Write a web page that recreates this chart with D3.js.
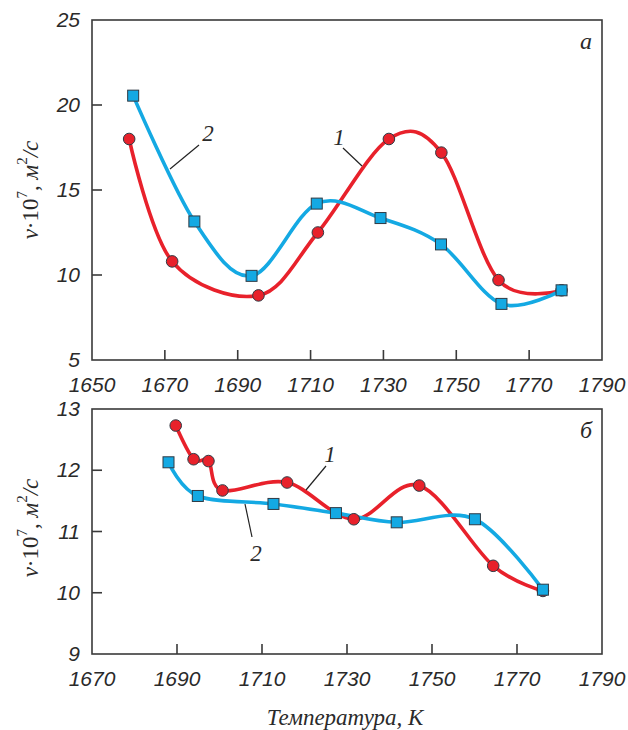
<!DOCTYPE html>
<html>
<head>
<meta charset="utf-8">
<script src="https://cdn.jsdelivr.net/npm/d3@7"></script>
<style>
  html, body { margin: 0; padding: 0; background: #fff; }
  svg { display: block; }
</style>
</head>
<body>
<svg id="chart" width="628" height="730"></svg>
<script>
// Panel "a": kinematic viscosity vs temperature
const tempA1 = [1660.2, 1672, 1695.7, 1712, 1731.5, 1745.9, 1761.6, 1778.9];
const viscA1 = [18.0, 10.8, 8.8, 12.5, 18.0, 17.2, 9.7, 9.1];
const tempA2 = [1661.3, 1678.1, 1693.8, 1711.7, 1729.2, 1745.8, 1762.4, 1778.9];
const viscA2 = [20.55, 13.15, 9.95, 14.2, 13.35, 11.8, 8.3, 9.1];
const xTicksA = [1650, 1670, 1690, 1710, 1730, 1750, 1770, 1790];
const yTicksA = [5, 10, 15, 20, 25];

// Panel "б"
const tempB1 = [1689.7, 1693.9, 1697.4, 1700.7, 1715.9, 1731.6, 1747, 1764.4, 1776.1];
const viscB1 = [12.73, 12.18, 12.15, 11.67, 11.8, 11.2, 11.75, 10.44, 10.03];
const tempB2 = [1688, 1694.9, 1712.7, 1727.4, 1741.7, 1760.1, 1776.1];
const viscB2 = [12.13, 11.58, 11.45, 11.3, 11.15, 11.2, 10.05];
const xTicksB = [1670, 1690, 1710, 1730, 1750, 1770, 1790];
const yTicksB = [9, 10, 11, 12, 13];

const RED = "#e8212b";
const BLUE = "#14a9e3";
const FRAME = "#3a3a3a";
const MARK_STROKE = "#2f3a44";

const svg = d3.select("#chart");

function drawPanel(opt) {
  const g = svg.append("g");
  const x = d3.scaleLinear().domain(opt.xDomain).range([92, 602]);
  const y = d3.scaleLinear().domain(opt.yDomain).range([opt.bottom, opt.top]);

  // frame
  g.append("rect")
    .attr("x", 92).attr("y", opt.top)
    .attr("width", 510).attr("height", opt.bottom - opt.top)
    .attr("fill", "none").attr("stroke", FRAME).attr("stroke-width", 1.6);

  // inward ticks
  g.selectAll(".xt").data(opt.xTicks.slice(1, -1)).enter().append("line")
    .attr("x1", d => x(d)).attr("x2", d => x(d))
    .attr("y1", opt.bottom).attr("y2", opt.bottom - 10)
    .attr("stroke", FRAME).attr("stroke-width", 1.6);
  g.selectAll(".yt").data(opt.yTicks.slice(1, -1)).enter().append("line")
    .attr("x1", 92).attr("x2", 102)
    .attr("y1", d => y(d)).attr("y2", d => y(d))
    .attr("stroke", FRAME).attr("stroke-width", 1.6);

  // tick labels
  g.selectAll(".xl").data(opt.xTicks).enter().append("text")
    .attr("x", d => x(d)).attr("y", opt.bottom + 32)
    .attr("text-anchor", "middle")
    .attr("font-family", "Liberation Sans, Arial, sans-serif")
    .attr("font-style", "italic").attr("font-size", 21).attr("fill", "#2a2a2a")
    .text(d => d);
  g.selectAll(".yl").data(opt.yTicks).enter().append("text")
    .attr("x", 80).attr("y", d => y(d) + 7)
    .attr("text-anchor", "end")
    .attr("font-family", "Liberation Sans, Arial, sans-serif")
    .attr("font-style", "italic").attr("font-size", 21).attr("fill", "#2a2a2a")
    .text(d => d);

  // y-axis title
  const yt = g.append("text")
    .attr("transform", `translate(38,${opt.titleY}) rotate(-90)`)
    .attr("text-anchor", "middle")
    .attr("font-family", "Liberation Serif, Times New Roman, serif")
    .attr("font-size", 23).attr("fill", "#2a2a2a");
  yt.append("tspan").attr("font-style", "italic").text("ν");
  yt.append("tspan").text("·10");
  yt.append("tspan").attr("font-size", 15).attr("dy", -11).text("7");
  yt.append("tspan").attr("dy", 11).text(", ");
  yt.append("tspan").attr("font-style", "italic").text("м");
  yt.append("tspan").attr("font-size", 15).attr("dy", -11).text("2");
  yt.append("tspan").attr("font-style", "italic").attr("dy", 11).text("/с");

  // panel letter
  g.append("text")
    .attr("x", 586).attr("y", opt.top + 29)
    .attr("text-anchor", "middle")
    .attr("font-family", "Liberation Serif, Times New Roman, serif")
    .attr("font-style", "italic").attr("font-size", 24).attr("fill", "#2a2a2a")
    .text(opt.letter);

  const line = d3.line().x(d => x(d[0])).y(d => y(d[1])).curve(d3.curveCatmullRom.alpha(0));

  const s1 = d3.zip(opt.t1, opt.v1);
  const s2 = d3.zip(opt.t2, opt.v2);

  const drawSeries = (data, color) =>
    g.append("path").datum(data).attr("d", line)
      .attr("fill", "none").attr("stroke", color)
      .attr("stroke-width", 3.6).attr("stroke-linejoin", "round").attr("stroke-linecap", "round");

  drawSeries(s1, RED);
  drawSeries(s2, BLUE);

  g.selectAll(".c").data(s1).enter().append("circle")
    .attr("cx", d => x(d[0])).attr("cy", d => y(d[1])).attr("r", 5.8)
    .attr("fill", RED).attr("stroke", MARK_STROKE).attr("stroke-width", 1);
  g.selectAll(".s").data(s2).enter().append("rect")
    .attr("x", d => x(d[0]) - 5.5).attr("y", d => y(d[1]) - 5.5)
    .attr("width", 11).attr("height", 11)
    .attr("fill", BLUE).attr("stroke", MARK_STROKE).attr("stroke-width", 1);

  // series labels with leader lines
  opt.labels.forEach(l => {
    g.append("line")
      .attr("x1", l.lx1).attr("y1", l.ly1).attr("x2", l.lx2).attr("y2", l.ly2)
      .attr("stroke", "#222").attr("stroke-width", 1.2);
    g.append("text")
      .attr("x", l.tx).attr("y", l.ty)
      .attr("text-anchor", "middle")
      .attr("font-family", "Liberation Serif, Times New Roman, serif")
      .attr("font-style", "italic").attr("font-size", 23).attr("fill", "#2a2a2a")
      .text(l.text);
  });
}

drawPanel({
  top: 20, bottom: 360,
  xDomain: [1650, 1790], yDomain: [5, 25],
  xTicks: xTicksA, yTicks: yTicksA,
  t1: tempA1, v1: viscA1, t2: tempA2, v2: viscA2,
  letter: "а", titleY: 190,
  labels: [
    { text: "2", tx: 208, ty: 141, lx1: 199, ly1: 145, lx2: 170, ly2: 169 },
    { text: "1", tx: 339, ty: 145, lx1: 343, ly1: 148, lx2: 362, ly2: 166 }
  ]
});

drawPanel({
  top: 409, bottom: 654,
  xDomain: [1670, 1790], yDomain: [9, 13],
  xTicks: xTicksB, yTicks: yTicksB,
  t1: tempB1, v1: viscB1, t2: tempB2, v2: viscB2,
  letter: "б", titleY: 528,
  labels: [
    { text: "1", tx: 330, ty: 462, lx1: 326, ly1: 466, lx2: 306, ly2: 490 },
    { text: "2", tx: 256, ty: 561, lx1: 252, ly1: 537, lx2: 245, ly2: 504 }
  ]
});

// shared x-axis title
svg.append("text")
  .attr("x", 345).attr("y", 725)
  .attr("text-anchor", "middle")
  .attr("font-family", "Liberation Serif, Times New Roman, serif")
  .attr("font-style", "italic").attr("font-size", 23).attr("fill", "#2a2a2a")
  .text("Температура, К");
</script>
</body>
</html>
